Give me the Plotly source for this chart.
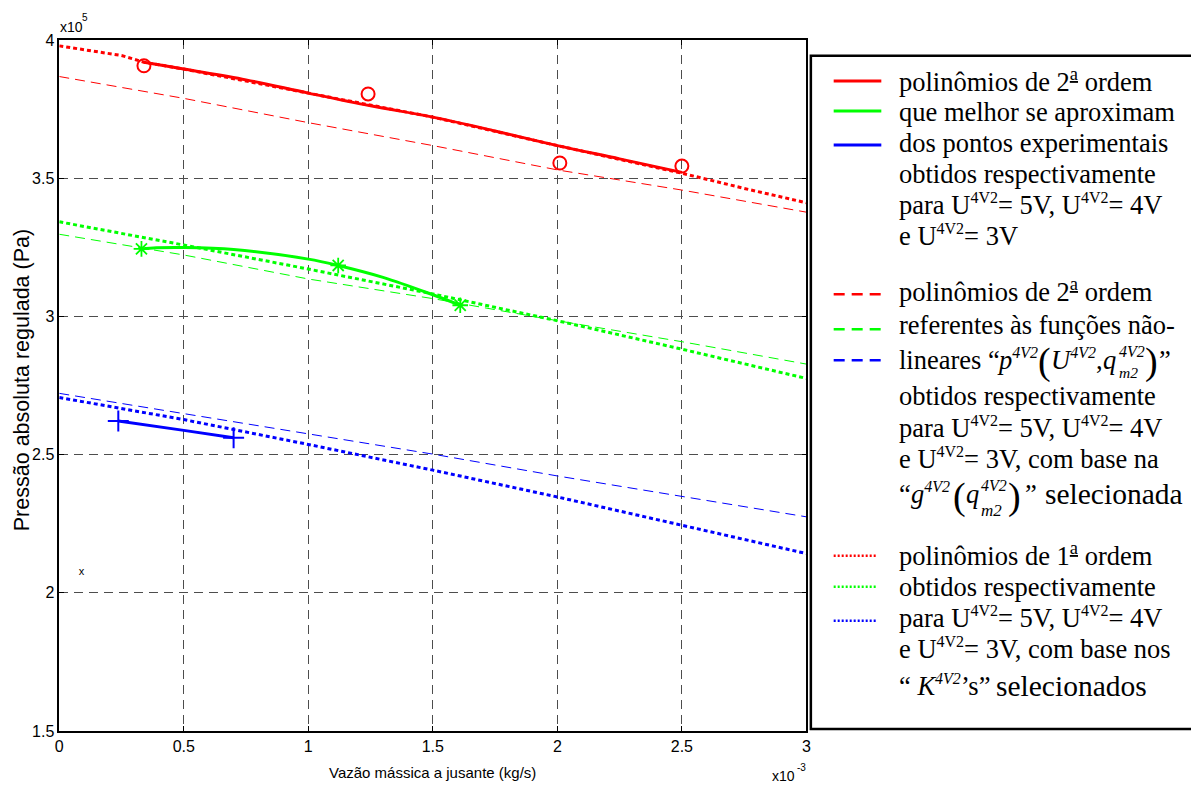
import plotly.graph_objects as go

# ---------------- chart values (x in 1e-3 kg/s, y in 1e5 Pa) -------------
x_tick_vals = [0, 0.5, 1, 1.5, 2, 2.5, 3]
x_tick_text = ['0', '0.5', '1', '1.5', '2', '2.5', '3']
y_tick_vals = [1.5, 2, 2.5, 3, 3.5, 4]
y_tick_text = ['1.5', '2', '2.5', '3', '3.5', '4']

# experimental points
red_pts_x = [0.34, 1.24, 2.01, 2.50]
red_pts_y = [3.908, 3.806, 3.556, 3.545]
green_pts_x = [0.33, 1.12, 1.61]
green_pts_y = [3.245, 3.185, 3.041]
blue_pts_x = [0.237, 0.70]
blue_pts_y = [2.622, 2.561]

# 2nd order polynomials fitted to experimental points (solid)
red_fit_x = [0.34, 0.5, 0.75, 1.0, 1.25, 1.5, 1.75, 2.0, 2.25, 2.5]
red_fit_y = [3.921, 3.896, 3.857, 3.809, 3.763, 3.722, 3.672, 3.619, 3.571, 3.522]
green_fit_x = [0.33, 0.39, 0.5, 0.7, 1.0, 1.12, 1.3, 1.5, 1.61]
green_fit_y = [3.245, 3.249, 3.250, 3.243, 3.208, 3.185, 3.142, 3.079, 3.041]
blue_fit_x = [0.237, 0.5, 0.70]
blue_fit_y = [2.622, 2.588, 2.561]

# 2nd order polynomials from the non-linear functions (dashed)
grid_x = [0, 0.5, 1.0, 1.5, 2.0, 2.5, 3.0]
red_nl_y = [3.869, 3.790, 3.702, 3.619, 3.531, 3.458, 3.378]
green_nl_y = [3.298, 3.223, 3.136, 3.065, 2.985, 2.909, 2.828]
blue_nl_y = [2.722, 2.649, 2.577, 2.502, 2.423, 2.350, 2.275]

# 1st order polynomials from the selected K's (dotted)
red_lin_x = [0, 0.25, 0.34, 0.5, 1.0, 1.5, 2.0, 2.5, 2.75, 3.0]
red_lin_y = [3.980, 3.945, 3.921, 3.896, 3.809, 3.722, 3.619, 3.519, 3.464, 3.412]
green_lin_y = [3.343, 3.259, 3.172, 3.082, 2.985, 2.882, 2.776]
blue_lin_y = [2.707, 2.627, 2.537, 2.444, 2.347, 2.245, 2.142]

# stray marker
stray_x = [0.089]
stray_y = [2.073]

SX, SY = 1e-3, 1e5
def sx(v): return [a * SX for a in v]
def sy(v): return [a * SY for a in v]

RED, GREEN, BLUE = '#ff0000', '#00ff00', '#0000ff'
W, H = 1191, 790
# layout positions are given in target-picture pixels; vertical positions are mapped
# to figure pixels to compensate for how the page is photographed
YS, YO = 0.977, 8.2
def fig_y(p): return (p - YO) / YS
def fx(p): return p / W
def fy(p): return 1 - fig_y(p) / H

PL, PR, PT, PB = 55.7, 808.5, 40.5, 730.0   # plot area (target pixels)

SANS = 'Liberation Sans, Arial, sans-serif'
SERIF = 'Liberation Serif, Times New Roman, serif'

fig = go.Figure()

DASH = '10px,6px'
DOT = '4px,3px'
# dashed (thin)
for yv, c in [(red_nl_y, RED), (green_nl_y, GREEN), (blue_nl_y, BLUE)]:
    fig.add_trace(go.Scatter(x=sx(grid_x), y=sy(yv), mode='lines',
                             line=dict(color=c, width=1, dash=DASH), hoverinfo='skip'))
# dotted (thick)
fig.add_trace(go.Scatter(x=sx(red_lin_x), y=sy(red_lin_y), mode='lines',
                         line=dict(color=RED, width=3, dash=DOT)))
for yv, c in [(green_lin_y, GREEN), (blue_lin_y, BLUE)]:
    fig.add_trace(go.Scatter(x=sx(grid_x), y=sy(yv), mode='lines',
                             line=dict(color=c, width=3, dash=DOT)))
# solid fits
for xv, yv, c in [(red_fit_x, red_fit_y, RED), (green_fit_x, green_fit_y, GREEN), (blue_fit_x, blue_fit_y, BLUE)]:
    fig.add_trace(go.Scatter(x=sx(xv), y=sy(yv), mode='lines', line=dict(color=c, width=3, shape='spline')))
# experimental points
fig.add_trace(go.Scatter(x=sx(red_pts_x), y=sy(red_pts_y), mode='markers',
                         marker=dict(symbol='circle-open', size=13, color=RED, line=dict(width=2, color=RED))))
fig.add_trace(go.Scatter(x=sx(green_pts_x), y=sy(green_pts_y), mode='markers',
                         marker=dict(symbol='asterisk-open', size=13, color=GREEN, line=dict(width=1.8, color=GREEN))))
fig.add_trace(go.Scatter(x=sx(blue_pts_x), y=sy(blue_pts_y), mode='markers',
                         marker=dict(symbol='cross-thin-open', size=15, color=BLUE, line=dict(width=2, color=BLUE))))
fig.add_trace(go.Scatter(x=sx(stray_x), y=sy(stray_y), mode='text', text=['x'],
                         textfont=dict(family=SANS, size=11, color='black')))

axis_common = dict(showgrid=True, gridcolor='#4d4d4d', gridwidth=1, griddash='9px,6px',
                   showline=True, mirror='ticks', linecolor='black', linewidth=1.5,
                   ticks='inside', ticklen=5, tickcolor='black', zeroline=False,
                   tickfont=dict(family=SANS, size=16, color='black'))

fig.update_layout(
    width=W, height=H, margin=dict(l=0, r=0, t=0, b=0),
    paper_bgcolor='white', plot_bgcolor='white', showlegend=False,
    xaxis=dict(domain=[fx(PL), fx(PR)], range=[0, 3 * SX], tickvals=sx(x_tick_vals),
               ticktext=x_tick_text, **axis_common),
    yaxis=dict(domain=[fy(PB), fy(PT)], range=[1.5 * SY, 4 * SY], tickvals=sy(y_tick_vals),
               ticktext=y_tick_text, **axis_common),
)

def ann_fig(x, yfig, s, family, size, xanchor='left', yanchor='bottom', angle=0):
    fig.add_annotation(x=fx(x), y=1 - yfig / H, xref='paper', yref='paper', text=s, showarrow=False,
                       xanchor=xanchor, yanchor=yanchor, textangle=angle, borderpad=0, borderwidth=0,
                       font=dict(family=family, size=size, color='black'))

def ann(x, y, s, family, size, xanchor='left', yanchor='bottom', angle=0):
    ann_fig(x, fig_y(y), s, family, size, xanchor, yanchor, angle)

def base_text(x, base, s, family, size):
    # place text so that its baseline sits at target pixel `base`
    asc_desc = 0.216 if family == SERIF else 0.212
    ann_fig(x, fig_y(base) + asc_desc * size, s, family, size)

# axis titles and exponent labels
ann(432, 772, 'Vazão mássica a jusante (kg/s)', SANS, 15, 'center', 'middle')
ann(19, 380, 'Pressão absoluta regulada (Pa)', SANS, 21.5, 'center', 'middle', -90)
base_text(56, 32, 'x10', SANS, 14)
base_text(79, 21, '5', SANS, 10)
base_text(774, 780, 'x10', SANS, 14)
base_text(799, 770, '-3', SANS, 10)

# legend box
fig.add_shape(type='rect', xref='paper', yref='paper', x0=fx(813), x1=fx(1200), y0=fy(728), y1=fy(56),
              line=dict(color='black', width=2.5), fillcolor='rgba(0,0,0,0)')

def sample(y, color, dash, width, x0=836, x1=884):
    fig.add_shape(type='line', xref='paper', yref='paper', x0=fx(x0), x1=fx(x1), y0=fy(y), y1=fy(y),
                  line=dict(color=color, width=width, dash=dash))

sample(81, RED, 'solid', 3)
sample(111, GREEN, 'solid', 3)
sample(145, BLUE, 'solid', 3)
sample(294, RED, '11px,7px', 2.5)
sample(329, GREEN, '11px,7px', 2.5)
sample(360, BLUE, '11px,7px', 2.5)
sample(555, RED, '2px,2px', 2.5, 836, 880)
sample(586, GREEN, '2px,2px', 2.5, 836, 880)
sample(620, BLUE, '2px,2px', 2.5, 836, 880)

FS = 26.5
def line(x, base, s, size=FS):
    base_text(x, base, s, SERIF, size)

def S(t):
    return '<sup><span style="font-size:16px">' + t + '</span></sup>'
def SI(t):
    return '<sup><span style="font-size:16px"><i>' + t + '</i></span></sup>'

ORD2 = '2<sup><u>a</u></sup>'
ORD1 = '1<sup><u>a</u></sup>'
U = 'U' + S('4V2')
TX = 902
# group 1
for b, s in zip([91, 121, 152, 183, 214, 245],
                ['polinômios de ' + ORD2 + ' ordem', 'que melhor se aproximam', 'dos pontos experimentais',
                 'obtidos respectivamente', 'para ' + U + '= 5V, ' + U + '= 4V', 'e ' + U + '= 3V']):
    line(TX, b, s)
# group 2
for b, s in zip([301, 334, 405, 437, 468],
                ['polinômios de ' + ORD2 + ' ordem', 'referentes às funções não-', 'obtidos respectivamente',
                 'para ' + U + '= 5V, ' + U + '= 4V', 'e ' + U + '= 3V, com base na']):
    line(TX, b, s)

def stacked(x, base, sup, sub, sub_shift=13, sub_size=17):
    line(x, base - 13, '<i>' + sup + '</i>', size=16)
    line(x, base + sub_shift, '<i>' + sub + '</i>', size=sub_size)

# formula row: lineares “ p(U, q_m2)”
b = 369
line(TX, b, 'lineares “')
line(1001, b, '<i>p</i>' + SI('4V2'))
line(1042, 375, '(', size=38)
line(1055, b, '<i>U</i>' + SI('4V2') + ',')
line(1107, b, '<i>q</i>')
stacked(1123, b, '4V2', 'm2', sub_shift=8, sub_size=15.5)
line(1150, 375, ')', size=38)
line(1164, b, '”')
# g row
b = 503
line(TX, b, '“')
line(914, b, '<i>g</i>' + SI('4V2'))
line(956, 509, '(', size=38)
line(969, b, '<i>q</i>')
stacked(984, b, '4V2', 'm2')
line(1012, 509, ')', size=38)
line(1029, b, '”')
line(1049, b, 'selecionada', size=29.5)
# group 3
for bb, s in zip([565, 596, 627, 658],
                 ['polinômios de ' + ORD1 + ' ordem', 'obtidos respectivamente',
                  'para ' + U + '= 5V, ' + U + '= 4V', 'e ' + U + '= 3V, com base nos']):
    line(TX, bb, s)
b = 695
line(TX, b, '“ <i>K</i>' + SI('4V2'))
line(964, b, '’s”')
line(1000, b, 'selecionados', size=29.5)

fig.write_html('out.html')
